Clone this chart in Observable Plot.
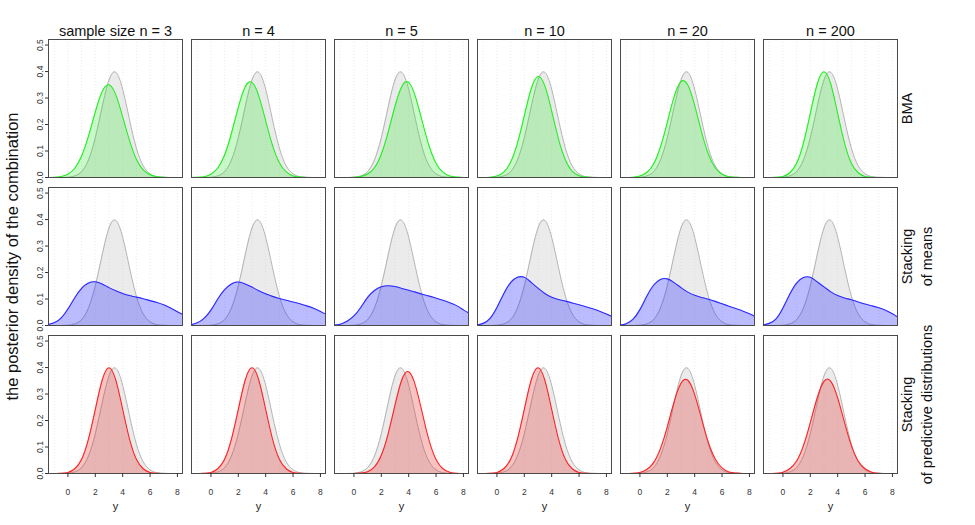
<!DOCTYPE html>
<html>
<head>
<meta charset="utf-8">
<script src="https://cdn.jsdelivr.net/npm/d3@7"></script>
<script src="https://cdn.jsdelivr.net/npm/@observablehq/plot@0.6"></script>
<style>
  body { margin: 0; background: #fff; }
  #chart svg { display: block; font-family: "Liberation Sans", Arial, sans-serif; }
</style>
</head>
<body>
<div id="chart"></div>
<script>
// Facet levels: sample sizes across, combination methods down
const sampleSizes = [3, 4, 5, 10, 20, 200];
const methods = ["BMA", "Stacking of means", "Stacking of predictive distributions"];
const methodLabels = ["BMA", "Stacking\nof means", "Stacking\nof predictive distributions"];

// Evaluation grid for every density (y values)
const grid = [-1.5, -1, -0.5, 0, 0.5, 1, 1.5, 2, 2.5, 3, 3.5, 4, 4.5, 5, 5.5, 6, 6.5, 7, 7.5, 8, 8.5];

// True data-generating density, drawn in grey behind every panel
const truth = [0.000, 0.000, 0.000, 0.001, 0.006, 0.022, 0.066, 0.150, 0.266, 0.368, 0.397, 0.333, 0.218, 0.111, 0.044, 0.014, 0.003, 0.001, 0.000, 0.000, 0.000];

// BMA posterior densities, one per sample size
const bma = [
  [0.000, 0.001, 0.004, 0.012, 0.035, 0.081, 0.156, 0.248, 0.324, 0.350, 0.312, 0.229, 0.139, 0.069, 0.029, 0.010, 0.003, 0.001, 0.000, 0.000, 0.000],
  [0.000, 0.001, 0.003, 0.012, 0.036, 0.085, 0.167, 0.265, 0.342, 0.359, 0.307, 0.214, 0.121, 0.056, 0.021, 0.006, 0.002, 0.000, 0.000, 0.000, 0.000],
  [0.000, 0.000, 0.000, 0.001, 0.004, 0.013, 0.037, 0.088, 0.171, 0.269, 0.344, 0.359, 0.304, 0.210, 0.118, 0.054, 0.020, 0.006, 0.002, 0.000, 0.000],
  [0.000, 0.000, 0.001, 0.006, 0.020, 0.058, 0.130, 0.233, 0.334, 0.381, 0.346, 0.251, 0.145, 0.067, 0.024, 0.007, 0.002, 0.000, 0.000, 0.000, 0.000],
  [0.000, 0.000, 0.001, 0.006, 0.019, 0.051, 0.115, 0.208, 0.305, 0.362, 0.349, 0.272, 0.172, 0.088, 0.037, 0.012, 0.003, 0.001, 0.000, 0.000, 0.000],
  [0.000, 0.000, 0.001, 0.004, 0.018, 0.054, 0.130, 0.242, 0.352, 0.399, 0.352, 0.242, 0.130, 0.054, 0.018, 0.004, 0.001, 0.000, 0.000, 0.000, 0.000]
];

// Stacking of means
const stackMeans = [
  [0.003, 0.010, 0.028, 0.062, 0.105, 0.140, 0.160, 0.165, 0.157, 0.143, 0.131, 0.121, 0.113, 0.107, 0.101, 0.094, 0.087, 0.078, 0.066, 0.052, 0.038],
  [0.002, 0.010, 0.027, 0.058, 0.100, 0.135, 0.157, 0.164, 0.157, 0.145, 0.131, 0.120, 0.110, 0.102, 0.095, 0.089, 0.082, 0.074, 0.065, 0.053, 0.040],
  [0.001, 0.005, 0.016, 0.036, 0.068, 0.106, 0.132, 0.146, 0.150, 0.147, 0.140, 0.133, 0.126, 0.118, 0.111, 0.103, 0.095, 0.086, 0.075, 0.059, 0.043],
  [0.001, 0.008, 0.027, 0.068, 0.120, 0.162, 0.182, 0.182, 0.163, 0.141, 0.121, 0.107, 0.098, 0.092, 0.085, 0.078, 0.071, 0.063, 0.054, 0.043, 0.031],
  [0.001, 0.007, 0.024, 0.060, 0.110, 0.152, 0.174, 0.176, 0.162, 0.143, 0.126, 0.114, 0.106, 0.099, 0.091, 0.082, 0.073, 0.064, 0.055, 0.044, 0.032],
  [0.001, 0.008, 0.025, 0.066, 0.118, 0.160, 0.181, 0.182, 0.165, 0.146, 0.127, 0.113, 0.104, 0.097, 0.089, 0.081, 0.074, 0.067, 0.058, 0.044, 0.028]
];

// Stacking of predictive distributions
const stackPred = [
  [0.000, 0.000, 0.001, 0.004, 0.018, 0.054, 0.130, 0.242, 0.352, 0.399, 0.352, 0.242, 0.130, 0.054, 0.018, 0.004, 0.001, 0.000, 0.000, 0.000, 0.000],
  [0.000, 0.000, 0.001, 0.004, 0.018, 0.054, 0.130, 0.242, 0.352, 0.399, 0.352, 0.242, 0.130, 0.054, 0.018, 0.004, 0.001, 0.000, 0.000, 0.000, 0.000],
  [0.000, 0.000, 0.000, 0.000, 0.002, 0.007, 0.025, 0.069, 0.150, 0.258, 0.354, 0.384, 0.331, 0.227, 0.123, 0.053, 0.018, 0.005, 0.001, 0.000, 0.000],
  [0.000, 0.000, 0.001, 0.004, 0.018, 0.054, 0.130, 0.242, 0.352, 0.399, 0.352, 0.242, 0.130, 0.054, 0.018, 0.004, 0.001, 0.000, 0.000, 0.000, 0.000],
  [0.000, 0.000, 0.001, 0.004, 0.015, 0.041, 0.094, 0.176, 0.271, 0.341, 0.352, 0.298, 0.206, 0.117, 0.055, 0.021, 0.006, 0.002, 0.000, 0.000, 0.000],
  [0.000, 0.000, 0.001, 0.005, 0.018, 0.047, 0.105, 0.192, 0.285, 0.348, 0.348, 0.285, 0.192, 0.105, 0.047, 0.018, 0.005, 0.001, 0.000, 0.000, 0.000]
];

// Axis ticks and background grid
const xTicks = [0, 2, 4, 6, 8];
const yTicks = [0, 0.1, 0.2, 0.3, 0.4, 0.5];
const gridLines = [-1, 0, 1, 2, 3, 4, 5, 6, 7, 8];

const palette = [
  {fill: "rgb(40,230,40)", line: "#22ee22", opacity: 0.25},
  {fill: "rgb(30,30,255)", line: "#2a2aff", opacity: 0.30},
  {fill: "rgb(230,40,40)", line: "#ff2222", opacity: 0.28}
];

// Tidy rows per method
const sets = [bma, stackMeans, stackPred].map((set, r) =>
  set.flatMap((vals, c) => vals.map((v, i) => ({method: methods[r], n: sampleSizes[c], x: grid[i], y: v})))
);
const truthRows = grid.map((x, i) => ({x, y: truth[i]}));

const curve = "natural";
const marks = [
  Plot.ruleX(gridLines, {stroke: "#e6e6e6", strokeDasharray: "1,2", strokeWidth: 0.8}),
  Plot.areaY(truthRows, {x: "x", y: "y", fill: "#bdbdbd", fillOpacity: 0.3, curve, clip: true}),
  Plot.lineY(truthRows, {x: "x", y: "y", stroke: "#b3b3b3", strokeWidth: 1, curve, clip: true})
];
sets.forEach((rows, r) => {
  marks.push(
    Plot.areaY(rows, {x: "x", y: "y", fx: "n", fy: "method", fill: palette[r].fill, fillOpacity: palette[r].opacity, curve, clip: true}),
    Plot.lineY(rows, {x: "x", y: "y", fx: "n", fy: "method", stroke: palette[r].line, strokeWidth: 1.1, curve, clip: true})
  );
});
marks.push(
  Plot.frame({stroke: "#4a4a4a", strokeWidth: 1}),
  Plot.axisX({ticks: xTicks, tickSize: 4, tickPadding: 11, fontSize: 8.5, label: null, color: "#333"}),
  Plot.axisY({ticks: yTicks, tickSize: 3, tickPadding: 3, tickRotate: -90, tickFormat: d3.format(".1f"), fontSize: 8.5, label: null, color: "#333"}),
  // column titles
  Plot.text(sampleSizes, {fx: d => d, fy: () => methods[0], text: d => (d === 3 ? "sample size " : "") + "n = " + d,
    frameAnchor: "top", lineAnchor: "bottom", dy: -4, fontSize: 14.5, fill: "#111"}),
  // row labels on the right
  Plot.text(methods, {fx: () => 200, fy: d => d, text: (d, i) => methodLabels[i],
    frameAnchor: "right", rotate: -90, textAnchor: "middle", lineAnchor: "top", lineHeight: 1.4, dx: 0, fontSize: 14.5, fill: "#111"}),
  // x axis title under each bottom panel
  Plot.text(sampleSizes, {fx: d => d, fy: () => methods[2], text: () => "y",
    frameAnchor: "bottom", lineAnchor: "middle", dy: 33, fontSize: 11, fill: "#222"}),
  // shared y axis title
  Plot.text(["the posterior density of the combination"], {fx: () => 3, fy: () => methods[1], text: d => d,
    frameAnchor: "left", rotate: -90, textAnchor: "middle", lineAnchor: "middle", dx: -36, fontSize: 16.5, fill: "#111"})
);

const chart = Plot.plot({
  width: 975,
  height: 525,
  marginLeft: 48,
  marginRight: 78,
  marginTop: 38,
  marginBottom: 50,
  style: {fontFamily: "Liberation Sans, Arial, sans-serif", background: "#fff"},
  x: {domain: [-1.42, 8.37]},
  y: {domain: [0, 0.521]},
  fx: {domain: sampleSizes, paddingInner: 9 / 143, paddingOuter: 0, axis: null},
  fy: {domain: methods, paddingInner: 0.0655, paddingOuter: 0, axis: null},
  marks
});
document.getElementById("chart").append(chart);
</script>
</body>
</html>
